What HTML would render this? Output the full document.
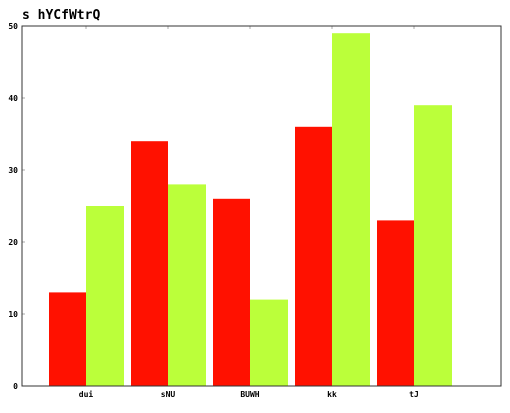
<!DOCTYPE html>
<html><head><meta charset="utf-8"><style>
body{margin:0;background:#fff;}
svg text{font-family:"DejaVu Sans Mono","Liberation Mono",monospace;font-weight:bold;}
</style></head><body>
<svg id="chart" width="510" height="408" xmlns="http://www.w3.org/2000/svg">
<text x="22" y="19" font-size="13" fill="#000">s hYCfWtrQ</text>
<g id="grid"></g><g id="bars"></g><g id="axes"></g>
</svg>
<script>
const categories=["dui","sNU","BUWH","kk","tJ"];
const seriesA=[13,34,26,36,23];
const seriesB=[25,28,12,49,39];
const yTicks=[0,10,20,30,40,50];
const L=22,R=501,T=26,B=386,yMax=50;
const ns="http://www.w3.org/2000/svg";
function y(v){return B-(v/yMax)*(B-T);}
function cx(i){return 86+i*82;}
function mk(t,a,p){const e=document.createElementNS(ns,t);for(const k in a)e.setAttribute(k,a[k]);p.appendChild(e);return e;}
const bars=document.getElementById('bars'),axes=document.getElementById('axes');
categories.forEach((c,i)=>{
 const r=mk('rect',{x:cx(i)-37,y:y(seriesA[i]),width:37,height:B-y(seriesA[i]),fill:'#ff1100'},bars);
 
 
 const g=mk('rect',{x:cx(i),y:y(seriesB[i]),width:38,height:B-y(seriesB[i]),fill:'#bbff3a'},bars);
 
 
 const t=mk('text',{x:cx(i),y:397,'font-size':8,'text-anchor':'middle'},axes);
 t.textContent=c;
 
 
 mk('line',{x1:cx(i),x2:cx(i),y1:T,y2:T+3,stroke:'#aaa'},axes);
});
yTicks.forEach(v=>{
 const t=mk('text',{x:18,y:y(v)+3,'font-size':8,'text-anchor':'end'},axes);
 t.textContent=v;
 
 
 mk('line',{x1:L,x2:L+3,y1:y(v),y2:y(v),stroke:'#aaa'},axes);
});
const f=mk('rect',{x:L,y:T,width:R-L,height:B-T,fill:'none',stroke:'#333','stroke-width':1},axes);


</script>
</body></html>
